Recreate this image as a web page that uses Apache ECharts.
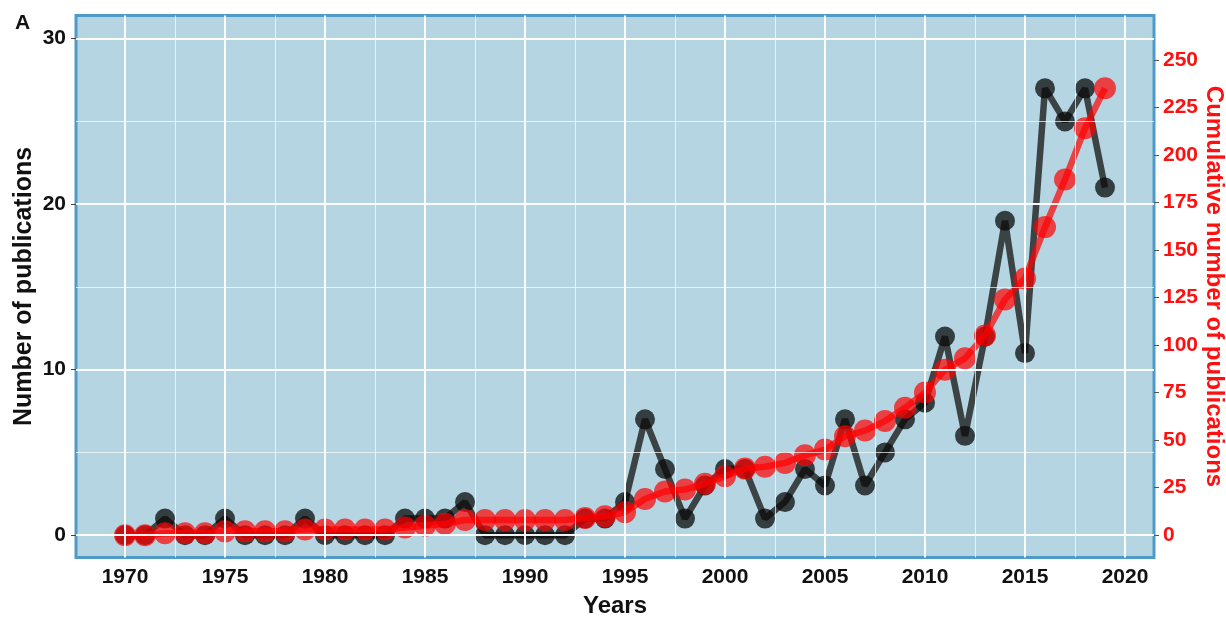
<!DOCTYPE html>
<html>
<head>
<meta charset="utf-8">
<title>Publications per year</title>
<script src="https://cdn.jsdelivr.net/npm/echarts@6/dist/echarts.min.js"></script>
<style>
  html, body { margin: 0; padding: 0; background: #ffffff; }
  #chart { width: 1226px; height: 619px; }
</style>
</head>
<body>
<div id="chart"></div>
<script>
// Publication years
const years = [
  1970, 1971, 1972, 1973, 1974, 1975, 1976, 1977, 1978, 1979,
  1980, 1981, 1982, 1983, 1984, 1985, 1986, 1987, 1988, 1989,
  1990, 1991, 1992, 1993, 1994, 1995, 1996, 1997, 1998, 1999,
  2000, 2001, 2002, 2003, 2004, 2005, 2006, 2007, 2008, 2009,
  2010, 2011, 2012, 2013, 2014, 2015, 2016, 2017, 2018, 2019
];

// Number of publications in each year
const annualCount = [
  0, 0, 1, 0, 0, 1, 0, 0, 0, 1,
  0, 0, 0, 0, 1, 1, 1, 2, 0, 0,
  0, 0, 0, 1, 1, 2, 7, 4, 1, 3,
  4, 4, 1, 2, 4, 3, 7, 3, 5, 7,
  8, 12, 6, 12, 19, 11, 27, 25, 27, 21
];

// Running total of publications
const cumulativeCount = [
  0, 0, 1, 1, 1, 2, 2, 2, 2, 3,
  3, 3, 3, 3, 4, 5, 6, 8, 8, 8,
  8, 8, 8, 9, 10, 12, 19, 23, 24, 27,
  31, 35, 36, 38, 42, 45, 52, 55, 60, 67,
  75, 87, 93, 105, 124, 135, 162, 187, 214, 235
];

// Tick labels
const yearTicks = [1970, 1975, 1980, 1985, 1990, 1995, 2000, 2005, 2010, 2015, 2020];
const countTicks = [0, 10, 20, 30];
const cumulativeTicks = [0, 25, 50, 75, 100, 125, 150, 175, 200, 225, 250];

// Minor grid positions
const yearMinor = [1972.5, 1977.5, 1982.5, 1987.5, 1992.5, 1997.5, 2002.5, 2007.5, 2012.5, 2017.5];
const countMinor = [5, 15, 25];

// Secondary axis factor: total count over peak annual count
const secondaryFactor = 235 / 27;
const countMin = -1.35, countMax = 31.4;
const yearMin = 1967.55, yearMax = 2021.45;

const FONT = '"Liberation Sans", Arial, sans-serif';

const annualData = years.map((y, i) => [y, annualCount[i]]);
const cumulativeData = years.map((y, i) => [y, cumulativeCount[i]]);

const majorLine = { color: '#ffffff', width: 2, type: 'solid', opacity: 0.95 };
const minorLine = { color: '#ffffff', width: 1, type: 'solid', opacity: 0.7 };

const gridLines = []
  .concat(yearMinor.map(v => ({ xAxis: v, lineStyle: minorLine })))
  .concat(countMinor.map(v => ({ yAxis: v, lineStyle: minorLine })))
  .concat(yearTicks.map(v => ({ xAxis: v, lineStyle: majorLine })))
  .concat(countTicks.map(v => ({ yAxis: v, lineStyle: majorLine })));

const chart = echarts.init(document.getElementById('chart'), null, { renderer: 'canvas' });

chart.setOption({
  animation: false,
  backgroundColor: '#ffffff',
  title: {
    text: 'A',
    left: 10,
    top: 8,
    textStyle: { fontFamily: FONT, fontWeight: 'bold', fontSize: 21, color: '#111' }
  },
  grid: {
    show: true,
    left: 76,
    right: 72,
    top: 15.5,
    bottom: 61.5,
    outerBoundsMode: 'none',
    containLabel: false,
    backgroundColor: '#b5d5e2',
    borderColor: '#4e9bc8',
    borderWidth: 3
  },
  xAxis: {
    type: 'value',
    min: yearMin,
    max: yearMax,
    name: 'Years',
    nameLocation: 'middle',
    nameGap: 37,
    nameMoveOverlap: false,
    nameTextStyle: { fontFamily: FONT, fontWeight: 'bold', fontSize: 24, color: '#111' },
    axisLine: { show: false },
    axisTick: { show: true, length: 5, customValues: yearTicks, lineStyle: { color: '#444', width: 1 } },
    axisLabel: {
      customValues: yearTicks,
      margin: 9,
      fontFamily: FONT, fontWeight: 'bold', fontSize: 21, color: '#111',
      formatter: v => String(Math.round(v))
    },
    splitLine: { show: false }
  },
  yAxis: [
    {
      type: 'value',
      min: countMin,
      max: countMax,
      name: 'Number of publications',
      nameLocation: 'middle',
      nameGap: 39,
      nameRotate: 90,
      nameMoveOverlap: false,
      nameTextStyle: { fontFamily: FONT, fontWeight: 'bold', fontSize: 25, color: '#111' },
      axisLine: { show: false },
      axisTick: { show: true, length: 5, customValues: countTicks, lineStyle: { color: '#444', width: 1 } },
      axisLabel: {
        customValues: countTicks,
        margin: 10,
        fontFamily: FONT, fontWeight: 'bold', fontSize: 21, color: '#111'
      },
      splitLine: { show: false }
    },
    {
      type: 'value',
      position: 'right',
      min: countMin * secondaryFactor,
      max: countMax * secondaryFactor,
      name: 'Cumulative number of publications',
      nameLocation: 'middle',
      nameGap: 48,
      nameRotate: -90,
      nameMoveOverlap: false,
      nameTextStyle: { fontFamily: FONT, fontWeight: 'bold', fontSize: 24, color: '#ff1010' },
      axisLine: { show: false },
      axisTick: { show: true, length: 5, customValues: cumulativeTicks, lineStyle: { color: '#555', width: 1 } },
      axisLabel: {
        customValues: cumulativeTicks,
        margin: 9,
        fontFamily: FONT, fontWeight: 'bold', fontSize: 21, color: '#ff1010'
      },
      splitLine: { show: false }
    }
  ],
  series: [
    {
      // panel grid lines
      type: 'line',
      data: [],
      z: 1,
      silent: true,
      markLine: {
        silent: true,
        symbol: ['none', 'none'],
        label: { show: false },
        emphasis: { disabled: true },
        animation: false,
        data: gridLines
      }
    },
    {
      name: 'Publications',
      type: 'line',
      yAxisIndex: 0,
      data: annualData,
      z: 3,
      symbol: 'circle',
      symbolSize: 20,
      lineStyle: { color: '#1e1e1e', width: 6.5, opacity: 0.8 },
      itemStyle: { color: '#0a0a0a', opacity: 0.75 },
      emphasis: { disabled: true }
    },
    {
      name: 'Cumulative publications',
      type: 'line',
      yAxisIndex: 1,
      data: cumulativeData,
      z: 4,
      symbol: 'circle',
      symbolSize: 22,
      lineStyle: { color: '#ff0000', width: 6.5, opacity: 0.7 },
      itemStyle: { color: '#ff0000', opacity: 0.7 },
      emphasis: { disabled: true }
    }
  ]
});
</script>
</body>
</html>
